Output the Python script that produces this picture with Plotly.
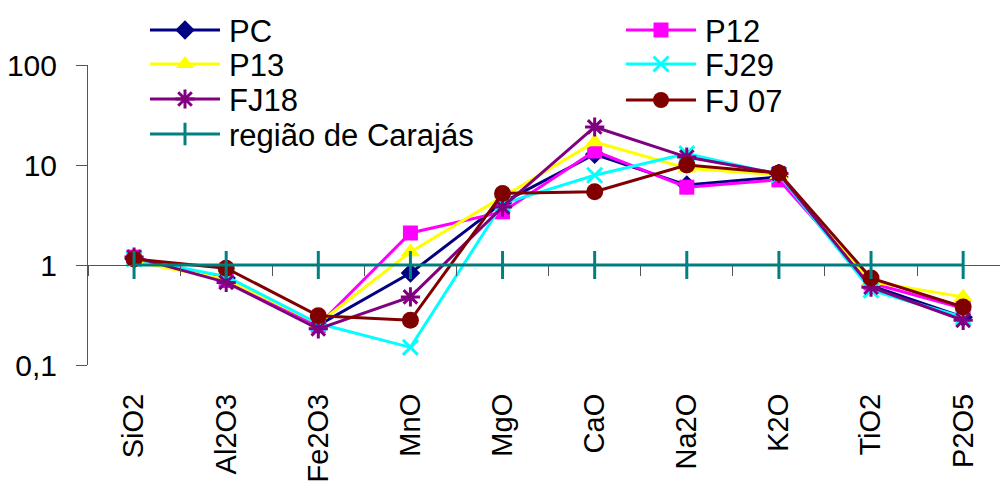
import plotly.graph_objects as go

categories = ["SiO2", "Al2O3", "Fe2O3", "MnO", "MgO", "CaO", "Na2O", "K2O", "TiO2", "P2O5"]

pc   = [1.15, 0.74, 0.25, 0.83, 4.2, 12.8, 6.3, 7.6, 0.62, 0.30]
p12  = [1.20, 0.70, 0.25, 2.09, 3.4, 13.8, 6.0, 7.1, 0.66, 0.37]
p13  = [1.08, 0.72, 0.26, 1.35, 4.8, 17.0, 9.3, 8.0, 0.68, 0.48]
fj29 = [1.15, 0.77, 0.26, 0.15, 4.1, 7.9, 13.0, 8.0, 0.56, 0.30]
fj18 = [1.20, 0.67, 0.23, 0.48, 3.8, 24.0, 12.0, 8.2, 0.60, 0.28]
fj07 = [1.15, 0.93, 0.31, 0.28, 5.2, 5.4, 10.0, 8.3, 0.74, 0.38]
carajas = [1, 1, 1, 1, 1, 1, 1, 1, 1, 1]

series = [
    ("PC", pc, "#000080", "diamond", 15),
    ("P12", p12, "#FF00FF", "square", 15),
    ("P13", p13, "#FFFF00", "triangle-up", 17),
    ("FJ29", fj29, "#00FFFF", "x-thin", 15),
    ("FJ18", fj18, "#800080", "asterisk", 16),
    ("FJ 07", fj07, "#800000", "circle", 17),
]

FONT = "Arial, Liberation Sans, sans-serif"
LEGFONT = 31

# plot area geometry (pixels) used to place legend entries in two columns
L, T, PW, PH = 88, 65, 912, 300
legend_slots = [(145, 30), (621, 30), (145, 64), (621, 64), (145, 99), (621, 100), (145, 134)]

fig = go.Figure()
for i, (name, vals, color, sym, size) in enumerate(series):
    thin = sym in ("x-thin", "asterisk")
    fig.add_trace(go.Scatter(
        x=categories, y=vals, name=name, mode="lines+markers",
        legend="legend" if i == 0 else f"legend{i + 1}",
        line=dict(color=color, width=3),
        marker=dict(symbol=sym, size=size, color=color,
                    line=dict(color=color, width=3 if thin else 0)),
    ))

fig.add_trace(go.Scatter(
    x=categories, y=carajas, name="região de Carajás", mode="lines+markers",
    xaxis="x2", yaxis="y", legend="legend7",
    line=dict(color="#008080", width=3),
    marker=dict(symbol="line-ns", size=20, color="#008080",
                line=dict(color="#008080", width=3)),
))

item_h = LEGFONT * 1.3 + 3
legends = {}
for i, (px, py) in enumerate(legend_slots):
    key = "legend" if i == 0 else f"legend{i + 1}"
    top = py - (5 + item_h / 2)
    legends[key] = dict(
        x=(px - L) / PW, y=1 + (T - top) / PH,
        orientation="v", xanchor="left", yanchor="top", itemwidth=74,
        font=dict(family=FONT, size=LEGFONT, color="black"),
        bgcolor="rgba(0,0,0,0)", borderwidth=0, tracegroupgap=0,
    )

fig.update_layout(
    width=1000, height=486,
    margin=dict(l=L, r=1000 - L - PW, t=T, b=486 - T - PH, autoexpand=False),
    paper_bgcolor="white", plot_bgcolor="white",
    font=dict(family=FONT, size=29, color="black"),
    showlegend=True,
    **legends,
    xaxis=dict(
        type="category", categoryorder="array", categoryarray=categories,
        range=[-0.5, 9.4], showline=False, showgrid=False, zeroline=False,
        ticks="", tickangle=-90, ticklabelstandoff=22, automargin=False,
        tickfont=dict(family=FONT, size=29, color="black"),
    ),
    xaxis2=dict(
        type="category", categoryorder="array", categoryarray=categories,
        range=[-0.5, 9.4], overlaying="x", anchor="free", position=1/3,
        side="bottom", showline=True, linecolor="#555555", linewidth=1,
        showgrid=False, zeroline=False, showticklabels=False, automargin=False,
        ticks="outside", tickson="boundaries", ticklen=10, tickcolor="#555555", tickwidth=1,
    ),
    yaxis=dict(
        type="log", range=[-1, 2], showline=True, linecolor="#555555", linewidth=1,
        showgrid=False, zeroline=False, automargin=False,
        tickmode="array", tickvals=[0.1, 1, 10, 100], ticktext=["0,1", "1", "10", "100"],
        ticks="outside", ticklen=11, tickcolor="#555555", tickwidth=1,
        ticklabelstandoff=13,
        tickfont=dict(family=FONT, size=30, color="black"),
    ),
)

post = """
document.body.style.margin = '0';
document.body.style.padding = '0';
var gd = document.getElementById('{plot_id}');
function fixLegend(){
  gd.querySelectorAll('.infolayer g.traces').forEach(function(t){
    var p = t.querySelector('.legendlines path');
    if(p) p.setAttribute('d','M5,0h70');
    t.querySelectorAll('.legendpoints path.scatterpts').forEach(function(m){
      m.setAttribute('transform','translate(40,0)');
    });
  });
}
fixLegend();
gd.on('plotly_afterplot', fixLegend);
"""

fig.write_html("out.html", post_script=post, config={"displayModeBar": False})
